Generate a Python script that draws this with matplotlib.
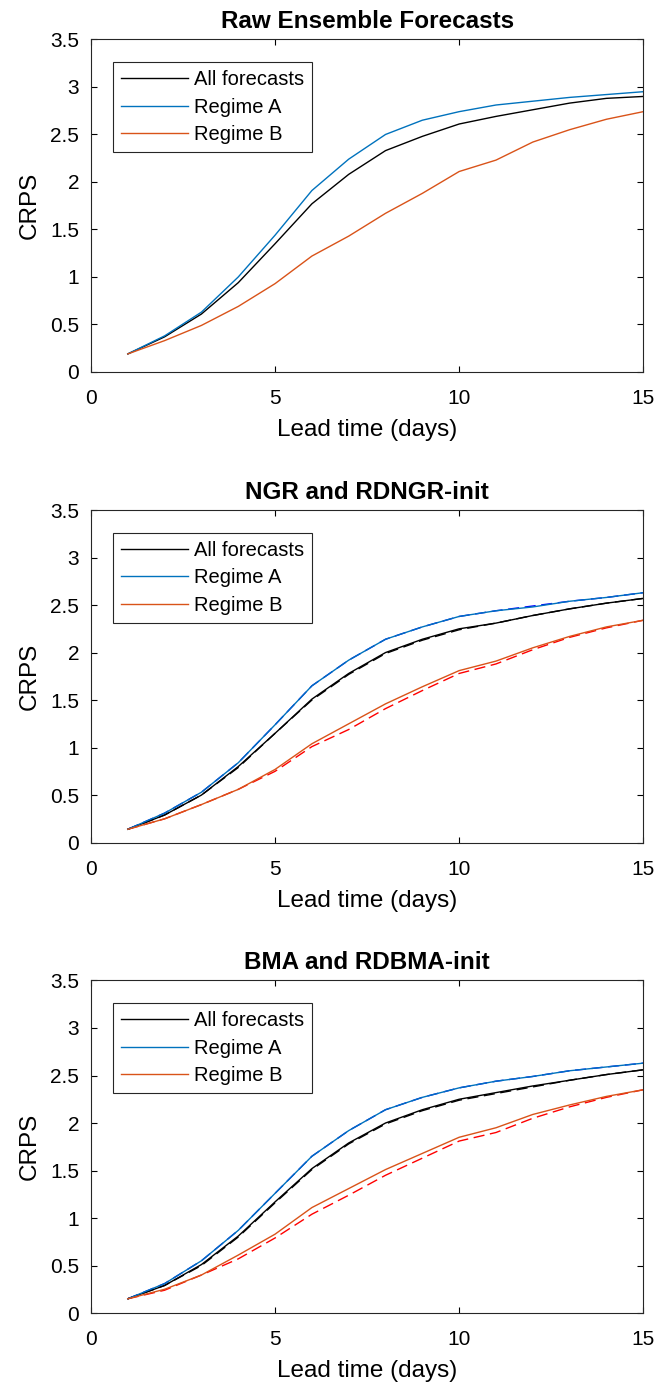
import matplotlib.pyplot as plt
import numpy as np

plt.rcParams['font.family'] = ['Liberation Sans', 'DejaVu Sans']

lead_days = list(range(1, 16))

# Raw ensemble
raw_all = [0.19, 0.37, 0.61, 0.94, 1.35, 1.77, 2.08, 2.33, 2.48, 2.61, 2.69, 2.76, 2.83, 2.88, 2.90]
raw_a = [0.19, 0.38, 0.63, 1.00, 1.44, 1.91, 2.24, 2.50, 2.65, 2.74, 2.81, 2.85, 2.89, 2.92, 2.95]
raw_b = [0.19, 0.33, 0.49, 0.69, 0.93, 1.22, 1.43, 1.67, 1.88, 2.11, 2.23, 2.42, 2.55, 2.66, 2.74]

# NGR (solid) and RDNGR-init (dashed)
ngr_all = [0.14, 0.29, 0.50, 0.80, 1.15, 1.51, 1.78, 2.00, 2.14, 2.25, 2.31, 2.39, 2.46, 2.52, 2.57]
ngr_a = [0.14, 0.31, 0.53, 0.84, 1.24, 1.65, 1.92, 2.14, 2.27, 2.38, 2.44, 2.48, 2.54, 2.58, 2.63]
ngr_b = [0.14, 0.25, 0.40, 0.56, 0.77, 1.04, 1.25, 1.46, 1.64, 1.81, 1.91, 2.05, 2.17, 2.27, 2.34]
rdngr_all = [0.14, 0.29, 0.50, 0.79, 1.15, 1.50, 1.77, 1.99, 2.13, 2.24, 2.31, 2.39, 2.46, 2.52, 2.57]
rdngr_a = [0.14, 0.31, 0.53, 0.84, 1.24, 1.65, 1.92, 2.14, 2.27, 2.38, 2.44, 2.49, 2.54, 2.58, 2.63]
rdngr_b = [0.14, 0.25, 0.40, 0.56, 0.75, 1.01, 1.19, 1.41, 1.60, 1.78, 1.88, 2.03, 2.16, 2.26, 2.34]

# BMA (solid) and RDBMA-init (dashed)
bma_all = [0.15, 0.29, 0.51, 0.81, 1.17, 1.52, 1.79, 2.00, 2.14, 2.25, 2.32, 2.39, 2.45, 2.51, 2.56]
bma_a = [0.15, 0.31, 0.55, 0.87, 1.26, 1.65, 1.92, 2.14, 2.27, 2.37, 2.44, 2.49, 2.55, 2.59, 2.63]
bma_b = [0.15, 0.25, 0.40, 0.61, 0.83, 1.11, 1.31, 1.51, 1.68, 1.85, 1.95, 2.09, 2.19, 2.28, 2.35]
rdbma_all = [0.15, 0.29, 0.50, 0.80, 1.16, 1.51, 1.78, 1.99, 2.13, 2.24, 2.31, 2.38, 2.45, 2.51, 2.56]
rdbma_a = [0.15, 0.31, 0.55, 0.87, 1.26, 1.65, 1.92, 2.14, 2.27, 2.37, 2.44, 2.49, 2.55, 2.59, 2.63]
rdbma_b = [0.15, 0.24, 0.40, 0.57, 0.79, 1.04, 1.24, 1.45, 1.63, 1.81, 1.90, 2.05, 2.17, 2.27, 2.35]

titles = ["Raw Ensemble Forecasts", "NGR and RDNGR-init", "BMA and RDBMA-init"]
legend_labels = ["All forecasts", "Regime A", "Regime B"]

c_all = "black"
c_a = "#0072BD"
c_b = "#D95319"

fig = plt.figure(figsize=(6.7, 13.89), dpi=100)
bottoms = [0.7322, 0.3934, 0.0547]
axes = [fig.add_axes([0.1358, b, 0.8243, 0.2394]) for b in bottoms]


def style_axis(ax, title):
    ax.set_xlim(0, 15)
    ax.set_ylim(0, 3.5)
    ax.set_xticks([0, 5, 10, 15])
    ax.set_yticks(np.arange(0, 3.51, 0.5))
    ax.set_yticklabels(["0", "0.5", "1", "1.5", "2", "2.5", "3", "3.5"])
    ax.tick_params(direction="in", top=True, right=True, labelsize=15, length=4, width=0.8)
    ax.tick_params(axis="x", pad=12.5)
    ax.tick_params(axis="y", pad=8.5)
    ax.set_xlabel("Lead time (days)", fontsize=17.5, labelpad=8)
    ax.set_ylabel("CRPS", fontsize=17.5, labelpad=7)
    ax.set_title(title, fontsize=17.5, fontweight="bold", pad=8)
    for sp in ax.spines.values():
        sp.set_linewidth(0.8)
        sp.set_color("#262626")
    leg = ax.legend(loc="upper left", bbox_to_anchor=(0.0393, 0.9314), borderaxespad=0,
                    fontsize=14.5, handlelength=3.35, fancybox=False, framealpha=1,
                    edgecolor="#262626", labelspacing=0.42, borderpad=0.4,
                    handletextpad=0.3)
    leg.get_frame().set_linewidth(0.8)


lw = 1.0
ax = axes[0]
ax.plot(lead_days, raw_all, color=c_all, lw=lw, label=legend_labels[0])
ax.plot(lead_days, raw_a, color=c_a, lw=lw, label=legend_labels[1])
ax.plot(lead_days, raw_b, color=c_b, lw=lw, label=legend_labels[2])
style_axis(ax, titles[0])

for ax, solid, dashed, title in [
    (axes[1], (ngr_all, ngr_a, ngr_b), (rdngr_all, rdngr_a, rdngr_b), titles[1]),
    (axes[2], (bma_all, bma_a, bma_b), (rdbma_all, rdbma_a, rdbma_b), titles[2]),
]:
    ax.plot(lead_days, dashed[0], color="black", lw=lw, ls=(0, (8, 4)))
    ax.plot(lead_days, dashed[1], color="blue", lw=lw, ls=(0, (8, 4)))
    ax.plot(lead_days, dashed[2], color="red", lw=lw, ls=(0, (8, 4)))
    ax.plot(lead_days, solid[0], color=c_all, lw=lw, label=legend_labels[0])
    ax.plot(lead_days, solid[1], color=c_a, lw=lw, label=legend_labels[1])
    ax.plot(lead_days, solid[2], color=c_b, lw=lw, label=legend_labels[2])
    style_axis(ax, title)

fig.savefig("out.png", dpi=100)
